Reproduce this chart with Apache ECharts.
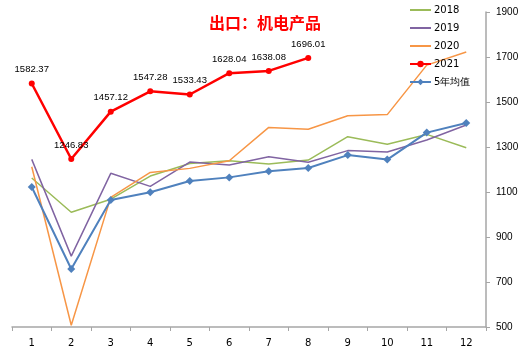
<!DOCTYPE html>
<html>
<head>
<meta charset="utf-8">
<script src="https://cdn.jsdelivr.net/npm/echarts@6/dist/echarts.min.js"></script>
<style>
  html, body { margin: 0; padding: 0; background: #fff; }
  #chart { width: 525px; height: 354px; }
</style>
</head>
<body>
<div id="chart"></div>
<script>
// 月份
const months = ["1", "2", "3", "4", "5", "6", "7", "8", "9", "10", "11", "12"];

// 各年数据
const y2018 = [1162, 1010, 1068, 1171, 1227, 1239, 1224, 1242, 1346, 1312, 1356, 1297];
const y2019 = [1245, 815, 1183, 1125, 1233, 1220, 1257, 1232, 1284, 1278, 1331, 1398];
const y2020 = [1212, 508, 1076, 1187, 1205, 1239, 1387, 1379, 1439, 1444, 1664, 1722];
const y2021 = [1582.37, 1246.83, 1457.12, 1547.28, 1533.43, 1628.04, 1638.08, 1696.01];
const avg5 = [1122, 758, 1064, 1099, 1149, 1165, 1192, 1207, 1264, 1244, 1364, 1407];

const yTicks = { min: 500, max: 1900, step: 200 };

const chart = echarts.init(document.getElementById("chart"));

const thinLine = (name, data, color) => ({
  name: name,
  type: "line",
  data: data,
  symbol: "none",
  lineStyle: { width: 1.5, color: color },
  itemStyle: { color: color }
});

// 细线图例只显示线段，不显示圆点
const plainItem = name => ({ name: name, itemStyle: { opacity: 0 } });

chart.setOption({
  animation: false,
  title: {
    text: "出口：机电产品",
    left: 260,
    top: 10,
    textAlign: "center",
    textStyle: {
      color: "#ff0000",
      fontSize: 16,
      fontWeight: "bold",
      fontFamily: "Noto Sans CJK SC"
    }
  },
  legend: {
    orient: "vertical",
    left: 409,
    top: 4,
    padding: 0,
    itemGap: 6,
    itemWidth: 21,
    itemHeight: 8,
    textStyle: {
      fontSize: 10,
      color: "#000",
      fontFamily: "DejaVu Sans",
      lineHeight: 12,
      padding: [0, 0, 0, -2]
    },
    data: [plainItem("2018"), plainItem("2019"), plainItem("2020"), "2021", "5年均值"]
  },
  grid: { left: 12, right: 39, top: 12, bottom: 27 },
  xAxis: {
    type: "category",
    data: months,
    boundaryGap: true,
    axisLine: { lineStyle: { color: "#a6a6a6", width: 1.5 } },
    axisTick: { show: true, alignWithLabel: false, length: 4, lineStyle: { color: "#a6a6a6" } },
    axisLabel: { color: "#000", fontSize: 10, margin: 11, fontFamily: "DejaVu Sans" }
  },
  yAxis: {
    type: "value",
    position: "right",
    min: yTicks.min,
    max: yTicks.max,
    interval: yTicks.step,
    splitLine: { show: false },
    axisLine: { show: true, lineStyle: { color: "#a6a6a6", width: 1.5 } },
    axisTick: { show: true, length: 4, lineStyle: { color: "#a6a6a6" } },
    axisLabel: {
      color: "#000",
      fontSize: 10,
      margin: 10,
      fontFamily: "Liberation Sans",
      formatter: v => String(v)
    }
  },
  series: [
    thinLine("2018", y2018, "#9bbb59"),
    thinLine("2019", y2019, "#8064a2"),
    thinLine("2020", y2020, "#f79646"),
    {
      name: "5年均值",
      type: "line",
      data: avg5,
      symbol: "diamond",
      symbolSize: 8,
      lineStyle: { width: 2, color: "#4f81bd" },
      itemStyle: { color: "#4f81bd" }
    },
    {
      name: "2021",
      type: "line",
      data: y2021,
      symbol: "circle",
      symbolSize: 6,
      lineStyle: { width: 2.5, color: "#ff0000" },
      itemStyle: { color: "#ff0000" },
      label: {
        show: true,
        position: "top",
        distance: 6,
        color: "#000",
        fontSize: 9.5,
        fontFamily: "Liberation Sans",
        formatter: p => p.value.toFixed(2)
      }
    }
  ]
});
</script>
</body>
</html>
